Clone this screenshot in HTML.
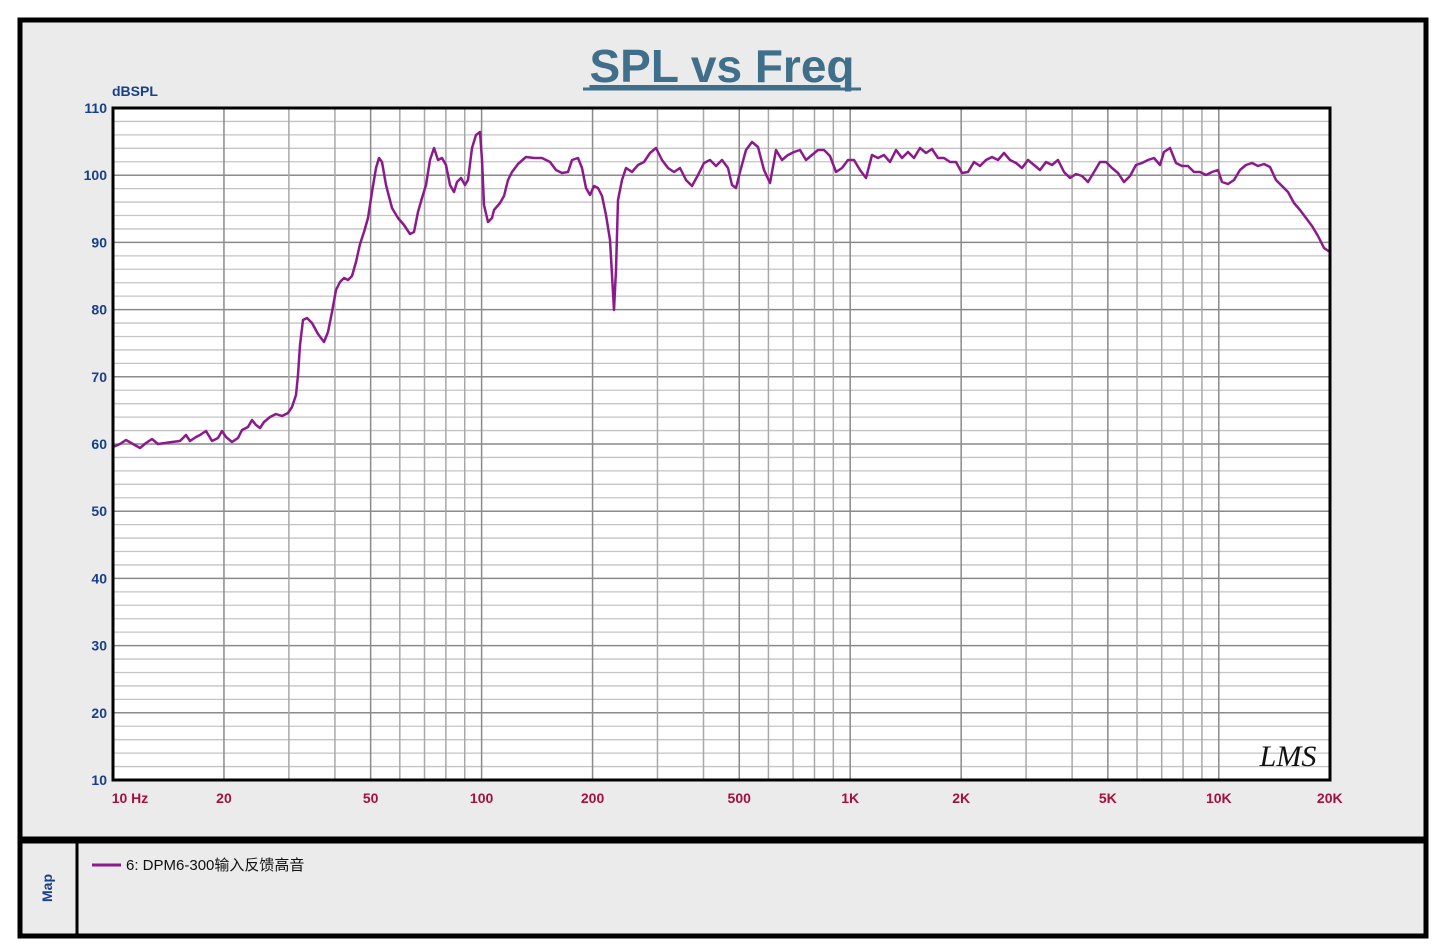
<!DOCTYPE html>
<html><head><meta charset="utf-8"><style>
html,body{margin:0;padding:0;background:#fff;}
svg{display:block;}
</style></head><body>
<svg id="s" width="1445" height="952" xmlns="http://www.w3.org/2000/svg" font-family="Liberation Sans, Noto Sans CJK SC, sans-serif">
<rect x="0" y="0" width="1445" height="952" fill="#fff"/>
<rect x="20" y="20" width="1406" height="916" fill="#ebebeb" stroke="#000" stroke-width="5"/>
<line x1="20" y1="840" x2="1426" y2="840" stroke="#000" stroke-width="7"/>
<line x1="77" y1="843" x2="77" y2="936" stroke="#000" stroke-width="3"/>
<text x="722" y="82" text-anchor="middle" font-size="46" font-weight="bold" fill="#3f6f8a" text-decoration="underline">SPL vs Freq</text>
<line x1="583" y1="89" x2="861" y2="89" stroke="#3f6f8a" stroke-width="3"/>
<text x="112" y="96" font-size="14" font-weight="bold" fill="#173f8a">dBSPL</text>
<rect x="113" y="108" width="1217" height="672" fill="#fff"/>
<g id="grid"></g>
<polyline id="curve" fill="none" stroke="#8b1a8b" stroke-width="2.5" stroke-linejoin="round"/>
<rect x="113" y="108" width="1217" height="672" fill="none" stroke="#000" stroke-width="3"/>
<g id="lab" font-size="14" font-weight="bold"></g>
<text x="1288" y="766" text-anchor="middle" font-size="30" font-style="italic" font-family="Liberation Serif, serif" fill="#111">LMS</text>
<text x="52" y="888" font-size="14" font-weight="bold" fill="#173f8a" text-anchor="middle" transform="rotate(-90 52 888)">Map</text>
<line x1="92" y1="865" x2="121" y2="865" stroke="#8b1a8b" stroke-width="3"/>
<text x="126" y="870" font-size="15" fill="#111">6: DPM6-300输入反馈高音</text>
</svg>
<script>
var NS="http://www.w3.org/2000/svg",g=document.getElementById('grid'),lab=document.getElementById('lab');
function X(f){return 113+(Math.log10(f)-1)*368.6;}
function Y(d){return 108+(110-d)*6.72;}
function ln(x1,y1,x2,y2,c,w){var l=document.createElementNS(NS,'line');l.setAttribute('x1',x1);l.setAttribute('y1',y1);l.setAttribute('x2',x2);l.setAttribute('y2',y2);l.setAttribute('stroke',c);l.setAttribute('stroke-width',w);g.appendChild(l);}
function tx(x,y,t,c,a){var e=document.createElementNS(NS,'text');e.setAttribute('x',x);e.setAttribute('y',y);e.setAttribute('fill',c);e.setAttribute('text-anchor',a);e.textContent=t;lab.appendChild(e);}
for(var d=10;d<=110;d+=2){var y=Y(d);ln(113,y,1330,y,d%10==0?'#8a8a8a':'#c4c4c4',d%10==0?1.5:1.3);if(d%10==0)tx(107,y+5,''+d,'#173f8a','end');}
var labs={10:'10 Hz',20:'20',50:'50',100:'100',200:'200',500:'500',1000:'1K',2000:'2K',5000:'5K',10000:'10K',20000:'20K'};
for(var dec=10;dec<=10000;dec*=10)for(var m=1;m<=9;m++){var f=dec*m;if(f>20000)break;var x=X(f);ln(x,108,x,780,labs[f]?'#8a8a8a':'#a8a8a8',1.5);}
for(var k in labs){var x=X(+k);tx(k==10?130:x,803,labs[k],'#a3123f','middle');}
var p=[[113,447],[120,444],[126,440],[133,444],[140,448],[146,443],[152,439],[158,444],[165,443],[172,442],[180,441],[186,435],[190,441],[196,437],[200,435],[206,431],[212,441],[218,438],[222,431],[226,437],[232,442],[238,438],[242,430],[248,427],[252,420],[256,425],[260,428],[264,422],[270,417],[276,414],[282,416],[288,413],[292,407],[296,395],[298,375],[300,345],[303,320],[307,318],[312,323],[318,334],[324,342],[328,332],[332,312],[336,290],[340,282],[344,278],[348,280],[352,276],[356,262],[360,244],[364,232],[368,218],[372,192],[376,168],[379,158],[382,162],[386,185],[392,208],[398,218],[404,225],[410,234],[414,232],[418,212],[422,198],[426,185],[430,160],[434,148],[438,160],[442,158],[446,165],[450,185],[454,192],[457,182],[461,178],[465,185],[468,180],[472,148],[476,135],[480,132],[482,160],[484,205],[488,222],[492,218],[494,210],[500,203],[504,196],[508,180],[512,172],[518,164],[526,157],[534,158],[542,158],[550,162],[556,170],[562,173],[568,172],[572,160],[578,158],[582,168],[586,188],[590,195],[594,186],[598,188],[602,196],[606,215],[610,240],[614,310],[616,270],[618,200],[622,180],[626,168],[632,172],[638,165],[644,162],[650,153],[656,148],[662,160],[668,168],[674,172],[680,168],[686,180],[692,186],[698,175],[704,163],[710,160],[716,166],[722,160],[728,168],[732,185],[736,188],[740,172],[746,150],[752,142],[758,147],[764,170],[770,183],[776,150],[782,160],[788,155],[794,152],[800,150],[806,160],[812,155],[818,150],[824,150],[830,156],[836,172],[842,168],[848,160],[854,160],[860,170],[866,178],[872,155],[878,158],[884,155],[890,162],[896,150],[902,158],[908,152],[914,158],[920,148],[926,153],[932,149],[938,158],[944,158],[950,162],[956,162],[962,173],[968,172],[974,162],[980,166],[986,160],[992,157],[998,160],[1004,153],[1010,160],[1016,163],[1022,168],[1028,160],[1034,165],[1040,170],[1046,162],[1052,165],[1058,160],[1064,172],[1070,178],[1076,174],[1082,176],[1088,182],[1094,172],[1100,162],[1106,162],[1112,168],[1118,173],[1124,182],[1130,176],[1136,165],[1142,163],[1148,160],[1154,158],[1160,165],[1164,152],[1170,148],[1176,163],[1182,166],[1188,166],[1194,172],[1200,172],[1206,175],[1212,172],[1218,170],[1222,182],[1228,184],[1234,180],[1240,170],[1246,165],[1252,163],[1258,166],[1264,164],[1270,167],[1276,180],[1282,186],[1288,192],[1294,203],[1300,210],[1306,218],[1312,226],[1318,236],[1324,248],[1330,252]];
document.getElementById('curve').setAttribute('points',p.map(function(a){return a.join(',');}).join(' '));
</script>
</body></html>
